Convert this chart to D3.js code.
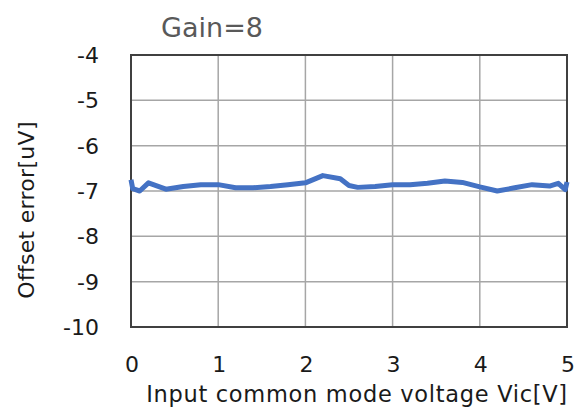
<!DOCTYPE html>
<html>
<head>
<meta charset="utf-8">
<script src="https://cdn.jsdelivr.net/npm/d3@7"></script>
<style>
  body { margin: 0; background: #fff; }
  text { font-family: "DejaVu Sans", Verdana, sans-serif; fill: #1a1a1a; }
</style>
</head>
<body>
<div id="chart"></div>
<script>
// Input common mode voltage Vic [V]
const vic = [0, 0.02, 0.1, 0.2, 0.4, 0.6, 0.8, 1.0, 1.2, 1.4, 1.6, 1.8, 2.0, 2.2, 2.4, 2.5, 2.6, 2.8, 3.0, 3.2, 3.4, 3.6, 3.8, 4.0, 4.2, 4.4, 4.6, 4.8, 4.9, 4.98, 5.0]
// Offset error [uV]
const offsetErr = [-6.75, -6.95, -7.0, -6.82, -6.96, -6.9, -6.86, -6.86, -6.93, -6.93, -6.9, -6.86, -6.82, -6.66, -6.73, -6.88, -6.92, -6.9, -6.86, -6.86, -6.83, -6.78, -6.81, -6.91, -7.0, -6.93, -6.86, -6.89, -6.83, -6.97, -6.8]
const xTicks = [0, 1, 2, 3, 4, 5]
const yTicks = [-4, -5, -6, -7, -8, -9, -10]

const W = 580, H = 412
const margin = {top: 55, right: 13, bottom: 85, left: 131}
const width = W - margin.left - margin.right,
      height = H - margin.top - margin.bottom

const svg = d3.select("#chart").append("svg")
    .attr("width", W).attr("height", H)

const g = svg.append("g")
    .attr("transform", `translate(${margin.left},${margin.top})`)

const x = d3.scaleLinear().domain([0, 5]).range([0, width])
const y = d3.scaleLinear().domain([-10, -4]).range([height, 0])

// grid
g.selectAll(".vgrid").data(xTicks.slice(1, -1)).join("line")
    .attr("x1", d => x(d)).attr("x2", d => x(d))
    .attr("y1", 0).attr("y2", height)
    .attr("stroke", "#a6a6a6").attr("stroke-width", 1.5)
g.selectAll(".hgrid").data(yTicks.slice(1, -1)).join("line")
    .attr("x1", 0).attr("x2", width)
    .attr("y1", d => y(d)).attr("y2", d => y(d))
    .attr("stroke", "#a6a6a6").attr("stroke-width", 1.5)

// frame
g.append("rect")
    .attr("width", width).attr("height", height)
    .attr("fill", "none").attr("stroke", "#404040").attr("stroke-width", 2)

// tick labels
g.selectAll(".ylab").data(yTicks).join("text")
    .attr("x", -32).attr("y", d => y(d))
    .attr("dy", "0.36em").attr("text-anchor", "end")
    .attr("font-size", 22)
    .text(d => d)
g.selectAll(".xlab").data(xTicks).join("text")
    .attr("x", d => x(d) + 1).attr("y", height + 45)
    .attr("text-anchor", "middle")
    .attr("font-size", 22)
    .text(d => d)

// titles
svg.append("text")
    .attr("x", 212).attr("y", 37)
    .attr("text-anchor", "middle").attr("font-size", 27)
    .style("fill", "#595959")
    .text("Gain=8")
svg.append("text")
    .attr("x", 357).attr("y", 402)
    .attr("text-anchor", "middle").attr("font-size", 22.5)
    .attr("letter-spacing", 0.7)
    .text("Input common mode voltage Vic[V]")
svg.append("text")
    .attr("transform", `translate(34,210) rotate(-90)`)
    .attr("text-anchor", "middle").attr("font-size", 22)
    .attr("letter-spacing", 0.3)
    .text("Offset error[uV]")

// data line
const line = d3.line()
    .x((d, i) => x(vic[i]))
    .y(d => y(d))
g.append("path")
    .datum(offsetErr)
    .attr("fill", "none")
    .attr("stroke", "#4472c4")
    .attr("stroke-width", 5)
    .attr("stroke-linejoin", "round")
    .attr("d", line)
</script>
</body>
</html>
